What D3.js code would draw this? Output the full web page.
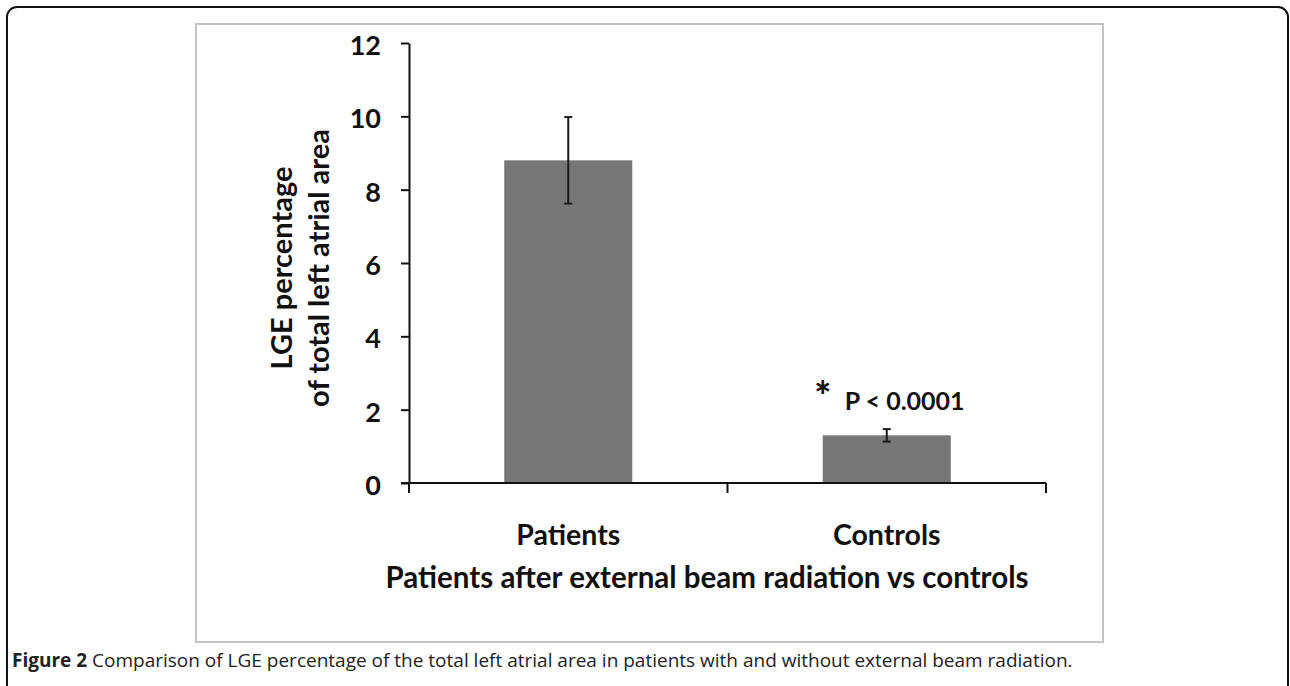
<!DOCTYPE html>
<html>
<head>
<meta charset="utf-8">
<script src="https://cdn.jsdelivr.net/npm/d3@7"></script>
<style>
  html, body { margin: 0; padding: 0; background: #fff; }
  svg { display: block; }
</style>
</head>
<body>
<svg id="chart" width="1290" height="686"></svg>
<script>
const categories = ["Patients", "Controls"];
const values = [8.8, 1.3];
const errors = [1.18, 0.17];
const yTicks = [0, 2, 4, 6, 8, 10, 12];
const yTitleLines = ["LGE percentage", "of total left atrial area"];
const xTitle = "Patients after external beam radiation vs controls";
const annotation = { star: "*", text: "P < 0.0001", category: "Controls" };
const captionBold = "Figure 2";
const captionText = " Comparison of LGE percentage of the total left atrial area in patients with and without external beam radiation.";

const svg = d3.select("#chart");
const FONT = "Lato, 'Open Sans', sans-serif";

// Outer frame
svg.append("rect")
  .attr("x", 7).attr("y", 7).attr("width", 1281).attr("height", 720)
  .attr("rx", 10).attr("ry", 10)
  .attr("fill", "none").attr("stroke", "#111").attr("stroke-width", 2);

// Inner chart frame
svg.append("rect")
  .attr("x", 196).attr("y", 24).attr("width", 907).attr("height", 618)
  .attr("fill", "#fff").attr("stroke", "#c4c4c4").attr("stroke-width", 2);

const x = d3.scaleBand().domain(categories).range([409, 1046])
  .paddingInner(0.598).paddingOuter(0.299);
const y = d3.scaleLinear().domain([0, 12]).range([483, 43]);

const g = svg.append("g");

// Bars
g.selectAll("rect.bar").data(categories).join("rect")
  .attr("class", "bar")
  .attr("x", d => x(d))
  .attr("width", x.bandwidth())
  .attr("y", (d, i) => y(values[i]))
  .attr("height", (d, i) => y(0) - y(values[i]))
  .attr("fill", "#777777");

// Error bars
const eb = g.selectAll("g.err").data(categories).join("g").attr("class", "err");
eb.append("line")
  .attr("x1", d => x(d) + x.bandwidth() / 2).attr("x2", d => x(d) + x.bandwidth() / 2)
  .attr("y1", (d, i) => y(values[i] + errors[i])).attr("y2", (d, i) => y(values[i] - errors[i]))
  .attr("stroke", "#1a1a1a").attr("stroke-width", 2);
[1, -1].forEach(s => {
  eb.append("line")
    .attr("x1", d => x(d) + x.bandwidth() / 2 - 4).attr("x2", d => x(d) + x.bandwidth() / 2 + 4)
    .attr("y1", (d, i) => y(values[i] + s * errors[i])).attr("y2", (d, i) => y(values[i] + s * errors[i]))
    .attr("stroke", "#1a1a1a").attr("stroke-width", 2);
});

// Y axis
const yAxis = g.append("g").attr("transform", "translate(409,0)")
  .call(d3.axisLeft(y).tickValues(yTicks).tickSize(8).tickSizeOuter(0).tickPadding(20).tickFormat(d3.format("d")));
yAxis.select(".domain").attr("stroke", "#111").attr("stroke-width", 2);
yAxis.selectAll(".tick line").attr("stroke", "#111").attr("stroke-width", 2);
yAxis.selectAll(".tick text")
  .attr("font-family", FONT).attr("font-weight", "bold").attr("font-size", 27)
  .attr("fill", "#111").attr("dy", "0.42em");

// X axis line + boundary ticks
const [x0, x1] = x.range();
const mid = x(categories[1]) - x.step() * x.paddingInner() / 2;
g.append("line").attr("x1", x0 - 8).attr("x2", x1).attr("y1", y(0)).attr("y2", y(0))
  .attr("stroke", "#111").attr("stroke-width", 2);
g.selectAll("line.xtick").data([x0, mid, x1]).join("line").attr("class", "xtick")
  .attr("x1", d => d).attr("x2", d => d).attr("y1", y(0)).attr("y2", y(0) + 10)
  .attr("stroke", "#111").attr("stroke-width", 2);

// X category labels
g.selectAll("text.xlab").data(categories).join("text").attr("class", "xlab")
  .attr("x", d => x(d) + x.bandwidth() / 2).attr("y", 545)
  .attr("text-anchor", "middle")
  .attr("font-family", FONT).attr("font-weight", "bold").attr("font-size", 28.5).attr("fill", "#111")
  .text(d => d);

// X title
g.append("text").attr("x", 707).attr("y", 588).attr("text-anchor", "middle")
  .attr("font-family", FONT).attr("font-weight", "bold").attr("font-size", 29.5).attr("fill", "#111")
  .text(xTitle);

// Y title
const yt = g.append("text").attr("transform", "translate(292,268) rotate(-90)")
  .attr("text-anchor", "middle")
  .attr("font-family", FONT).attr("font-weight", "bold").attr("font-size", 29).attr("fill", "#111");
yt.selectAll("tspan").data(yTitleLines).join("tspan")
  .attr("x", 0).attr("dy", (d, i) => i === 0 ? 0 : 37).text(d => d);

// Annotation
const ac = x(annotation.category) + x.bandwidth() / 2;
g.append("text").attr("x", ac - 64).attr("y", 411).attr("text-anchor", "middle")
  .attr("font-family", FONT).attr("font-weight", "900").attr("font-size", 40).attr("fill", "#111")
  .text(annotation.star);
g.append("text").attr("x", ac - 42).attr("y", 410)
  .attr("font-family", FONT).attr("font-weight", "bold").attr("font-size", 25).attr("fill", "#111")
  .text(annotation.text);

// Caption
const cap = svg.append("text").attr("x", 12).attr("y", 667)
  .attr("font-family", "'Open Sans', sans-serif").attr("font-size", 19).attr("fill", "#222");
cap.append("tspan").attr("font-weight", "bold").text(captionBold);
cap.append("tspan").text(captionText);
</script>
</body>
</html>
